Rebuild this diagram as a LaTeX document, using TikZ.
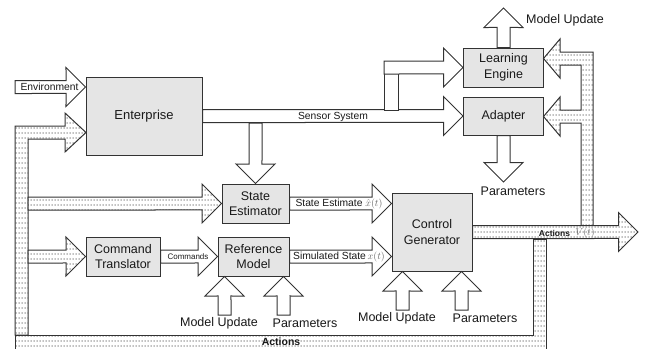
\documentclass[tikz,border=0pt]{standalone}
\usepackage{fontspec}
\setmainfont{Liberation Sans}
\usetikzlibrary{calc,patterns.meta}

% fine dot texture for the feedback channels
\tikzdeclarepattern{
  name=speckle,
  type=uncolored,
  bounding box={(0pt,0pt) and (3pt,4.5pt)},
  tile size={(3pt,4.5pt)},
  code={\pgfpathrectangle{\pgfqpoint{0.8pt}{1.6pt}}{\pgfqpoint{1.3pt}{1.2pt}}\pgfusepath{fill}}
}

\begin{document}
\begin{tikzpicture}[x=1pt, y=-1pt,
  box/.style={draw=black!80, line width=1pt, fill=black!10, text=black!90, align=center,
    font=\fontsize{12.5}{15.5}\selectfont, inner sep=0pt},
  fat/.style={draw=black!80, line width=1pt, fill=white, line join=miter,
    to path={($(\tikztostart)!6.5pt!90:(\tikztotarget)$)
      -- ($(\tikztotarget)!20.55pt!-18.43:(\tikztostart)$)
      -- ($(\tikztotarget)!27.58pt!-45:(\tikztostart)$)
      -- (\tikztotarget)
      -- ($(\tikztotarget)!27.58pt!45:(\tikztostart)$)
      -- ($(\tikztotarget)!20.55pt!18.43:(\tikztostart)$)
      -- ($(\tikztostart)!6.5pt!-90:(\tikztotarget)$) -- cycle}},
  dfat/.style={fat, preaction={fill=white}, pattern=speckle, pattern color=black!55},
  dbar/.style={draw=black!80, line width=1pt, line join=miter, preaction={fill=white},
    pattern=speckle, pattern color=black!55},
  lbl/.style={font=\fontsize{10.3}{12}\selectfont, text=black!90, inner sep=0pt},
  big/.style={font=\fontsize{12.5}{15}\selectfont, text=black!90, inner sep=0pt}]
\useasboundingbox (0,0) rectangle (645,348);

% blocks
\node[box, font=\fontsize{13}{15}\selectfont, minimum width=116pt, minimum height=78pt] (ent) at (144,116) {Enterprise};
\node[box, minimum width=80pt, minimum height=39pt] (le) at (503.5,67.5) {Learning\\Engine};
\node[box, minimum width=80pt, minimum height=38pt] (ad) at (503.5,116) {Adapter};
\node[box, minimum width=67pt, minimum height=39pt] (se) at (255.5,203.5) {State\\Estimator};
\node[box, minimum width=74pt, minimum height=39pt] (ct) at (123,256.5) {Command\\Translator};
\node[box, minimum width=71pt, minimum height=39pt] (rm) at (253.5,256.5) {Reference\\Model};
\node[box, minimum width=80pt, minimum height=78pt] (cg) at (432,232) {Control\\Generator};

% feedback channels (dotted)
\draw[dbar] (15,126) -- (65,126) -- (65,113) -- (86,132.5) -- (65,152) -- (65,139)
  -- (28,139) -- (28,335) -- (15,335) -- cycle;
\draw[dbar] (15,335) -- (533,335) -- (533,239) -- (546,239) -- (546,349) -- (15,349) -- cycle;
\draw[dbar] (593,226) -- (593,52) -- (560,52) -- (560,39) -- (543.5,58.5) -- (560,78) -- (560,65)
  -- (581,65) -- (581,110) -- (560,110) -- (560,97) -- (543.5,116.5) -- (560,136) -- (560,123)
  -- (581,123) -- (581,226) -- cycle;
\draw[dfat] (28,203.5) to (se.west);
\draw[dfat] (28,256.5) to (ct.west);
\draw[dfat] (cg.east) to (638,232);

% signal arrows
\coordinate (env) at (15,87);
\draw[fat] (env) to (ent.west |- env);
\draw[fat] (ent.east) to (ad.west);
\draw[fat] (384,61) rectangle (398,110);
\draw[fat] (384,67.5) to (le.west);
\draw[fat] (se.north |- 0,123) to (se.north);
\draw[fat] (ct.east) to (rm.west);
\draw[fat] (se.east) to (cg.west |- se.east);
\draw[fat] (rm.east) to (cg.west |- rm.east);
\draw[fat] (le.north) to (le.north |- 0,8);
\draw[fat] (ad.south) to (ad.south |- 0,182);

% tuning inputs
\coordinate (mu1) at (224.5,315);
\coordinate (pa1) at (283.5,315);
\coordinate (mu2) at (402.5,310);
\coordinate (pa2) at (461.5,310);
\draw[fat] (mu1) to (mu1 |- rm.south);
\draw[fat] (pa1) to (pa1 |- rm.south);
\draw[fat] (mu2) to (mu2 |- cg.south);
\draw[fat] (pa2) to (pa2 |- cg.south);

% labels
\node[lbl] at (49.5,87) {Environment};
\node[lbl] at (333,116.5) {Sensor System};
\node[lbl, font=\fontsize{8}{9}\selectfont] at (188,257) {Commands};
\node[lbl] at (339,204) {State Estimate \textcolor{black!60}{$\hat{x}(t)$}};
\node[lbl] at (339,257) {Simulated State\,\textcolor{black!60}{$x(t)$}};
\node[lbl, font=\bfseries\fontsize{8.5}{10}\selectfont] at (554.5,233) {Actions};
\node[lbl, text=black!55] at (585,233) {$V(t)$};
\node[lbl, font=\bfseries\fontsize{10.5}{12}\selectfont] at (281,342) {Actions};
\node[big] at (565,20) {Model Update};
\node[big] at (513,191) {Parameters};
\node[big] at (219,323) {Model Update};
\node[big] at (305,323) {Parameters};
\node[big] at (397,318) {Model Update};
\node[big] at (485,318) {Parameters};
\end{tikzpicture}
\end{document}
